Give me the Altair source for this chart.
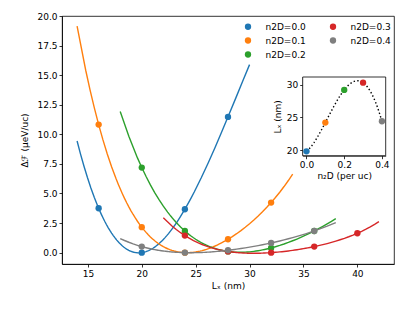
import altair as alt
import pandas as pd

# ---- data ----
series = ["n2D=0.0", "n2D=0.1", "n2D=0.2", "n2D=0.3", "n2D=0.4"]
colors = ["#1f77b4", "#ff7f0e", "#2ca02c", "#d62728", "#7f7f7f"]
Lx = [
    [16, 20, 24, 28],
    [16, 20, 24, 28, 32],
    [20, 24, 28, 32, 36],
    [24, 28, 32, 36, 40],
    [20, 24, 28, 32, 36],
]
dF = [
    [3.75, 0.0, 3.67, 11.47],
    [10.82, 2.15, 0.0, 1.13, 4.23],
    [7.19, 1.83, 0.1, 0.4, 1.83],
    [1.44, 0.1, 0.0, 0.51, 1.64],
    [0.51, 0.0, 0.2, 0.82, 1.83],
]
fit_start = [14, 14, 18, 22, 18]
fit_end = [30, 34, 38, 42, 38]

n2D = [0.0, 0.1, 0.2, 0.3, 0.4]
Lx_opt = [19.8, 24.2, 29.2, 30.3, 24.4]

x_ticks = [15, 20, 25, 30, 35, 40]
y_ticks = [0, 2.5, 5, 7.5, 10, 12.5, 15, 17.5, 20]
inset_x_ticks = [0.0, 0.2, 0.4]
inset_y_ticks = [20, 25, 30]

rows = []
for s, xs_, ys_ in zip(series, Lx, dF):
    for a, b in zip(xs_, ys_):
        rows.append({"series": s, "L": a, "dF": b})
df = pd.DataFrame(rows)

inset_df = pd.DataFrame({"series": series, "n": n2D, "Lopt": Lx_opt})
frame_df = pd.DataFrame({"x1": [-0.02], "x2": [0.42], "y1": [19.13], "y2": [31.17]})

W, H = 332, 248

xscale = alt.Scale(domain=[12.6, 43.4], nice=False, zero=False)
yscale = alt.Scale(domain=[-0.96, 20], nice=False, zero=False)
color_scale = alt.Scale(domain=series, range=colors)

xaxis = alt.Axis(values=x_ticks, format="d", title="Lₓ  (nm)", titlePadding=3,
                 labelFlush=False)
yaxis = alt.Axis(values=y_ticks, format=".1f", title="Δℱ (μeV/uc)",
                 titleX=-33, titleY=H / 2)

legend = alt.Legend(title=None, orient="none", legendX=181.5, legendY=6,
                    columns=2, symbolType="circle", symbolSize=40,
                    labelFontSize=9, labelFont="DejaVu Sans", labelOffset=13,
                    columnPadding=22, rowPadding=4, padding=0,
                    symbolStrokeWidth=0, symbolOpacity=1, labelColor="black")

X = alt.X("L:Q", scale=xscale, axis=xaxis)
Y = alt.Y("dF:Q", scale=yscale, axis=yaxis)

layers = []
for i, s in enumerate(series):
    base = alt.Chart(df).transform_filter(alt.datum.series == s)
    line = base.transform_regression(
        "L", "dF", method="poly", order=len(Lx[i]) - 1,
        extent=[fit_start[i], fit_end[i]]
    ).mark_line(color=colors[i], strokeWidth=1.4).encode(x=X, y=Y)
    pts = base.mark_circle(size=40, opacity=1).encode(
        x=X, y=Y,
        color=alt.Color("series:N", scale=color_scale, legend=legend),
    )
    layers += [line, pts]
main = alt.layer(*layers)

# ---- inset ----
ixscale = alt.Scale(domain=[-0.02, 0.42], nice=False, zero=False, range=[240.7, 323.7])
iyscale = alt.Scale(domain=[19.13, 31.17], nice=False, zero=False, range=[139.7, 61])
ixaxis = alt.Axis(values=inset_x_ticks, format=".1f", title="n₂D (per uc)",
                  orient="bottom", offset=-108.3, titlePadding=2, labelFlush=False)
iyaxis = alt.Axis(values=inset_y_ticks, format="d", title="Lₓ (nm)",
                  orient="left", offset=-240.7, titlePadding=4)

frame = alt.Chart(frame_df).mark_rect(fill="white", stroke="black", strokeWidth=0.8).encode(
    x=alt.X("x1:Q", scale=ixscale, axis=ixaxis), x2="x2:Q",
    y=alt.Y("y1:Q", scale=iyscale, axis=iyaxis), y2="y2:Q",
)
IX = alt.X("n:Q", scale=ixscale, axis=ixaxis)
IY = alt.Y("Lopt:Q", scale=iyscale, axis=iyaxis)
curve = alt.Chart(inset_df).transform_regression(
    "n", "Lopt", method="poly", order=4, extent=[0.0, 0.4]
).mark_line(color="black", strokeWidth=1.4, strokeDash=[1.4, 2.3]).encode(x=IX, y=IY)
ipts = alt.Chart(inset_df).mark_circle(size=40, opacity=1).encode(
    x=IX, y=IY,
    color=alt.Color("series:N", scale=color_scale, legend=legend),
)
inset = alt.layer(frame, curve, ipts)

chart = alt.layer(main, inset).resolve_scale(
    x="independent", y="independent"
).properties(
    width=W, height=H,
    autosize=alt.AutoSizeParams(type="none"),
    padding={"left": 54, "top": 8, "right": 13, "bottom": 39},
).configure_axis(
    labelFont="DejaVu Sans", titleFont="DejaVu Sans",
    labelFontSize=9, titleFontSize=9, titleFontWeight="normal",
    domainColor="black", tickColor="black", labelColor="black", titleColor="black",
    tickSize=3, grid=False, domainWidth=0.8, tickWidth=0.8, labelPadding=2,
).configure_view(stroke="black", strokeWidth=0.8)

chart.save("out.html", embed_options={"renderer": "svg", "actions": False})
